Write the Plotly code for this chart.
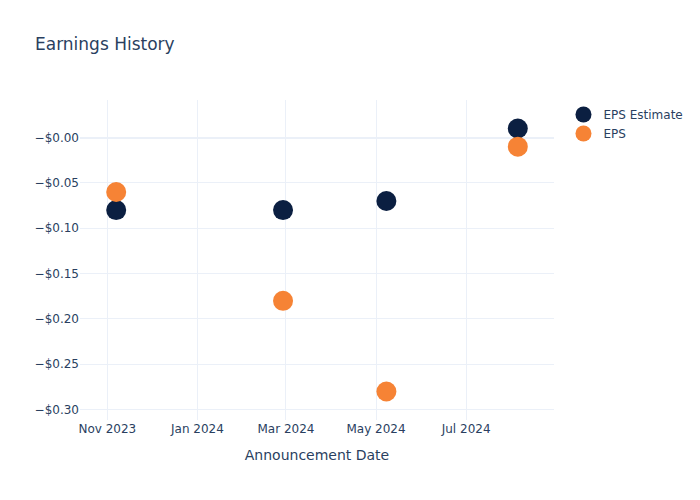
import plotly.graph_objects as go

dates = ["2023-11-07", "2024-02-28", "2024-05-08", "2024-08-05"]
eps_estimate = [-0.08, -0.08, -0.07, 0.01]
eps_actual = [-0.06, -0.18, -0.28, -0.01]
tick_values = [0.0, -0.05, -0.10, -0.15, -0.20, -0.25, -0.30]
tick_labels = ["−$0.00", "−$0.05", "−$0.10", "−$0.15", "−$0.20", "−$0.25", "−$0.30"]

fig = go.Figure()
fig.add_trace(go.Scatter(x=dates, y=eps_estimate, mode="markers", name="EPS Estimate",
                         marker=dict(size=20, color="#0b1f41")))
fig.add_trace(go.Scatter(x=dates, y=eps_actual, mode="markers", name="EPS",
                         marker=dict(size=20, color="#f68335")))
fig.update_layout(
    template="plotly_white",
    width=700, height=500,
    font=dict(family="DejaVu Sans"),
    title=dict(text="Earnings History"),
    xaxis=dict(title=dict(text="Announcement Date")),
    yaxis=dict(tickvals=tick_values, ticktext=tick_labels),
)
fig.write_html("out.html", config={"displayModeBar": False},
               post_script="document.body.style.margin='0';")
